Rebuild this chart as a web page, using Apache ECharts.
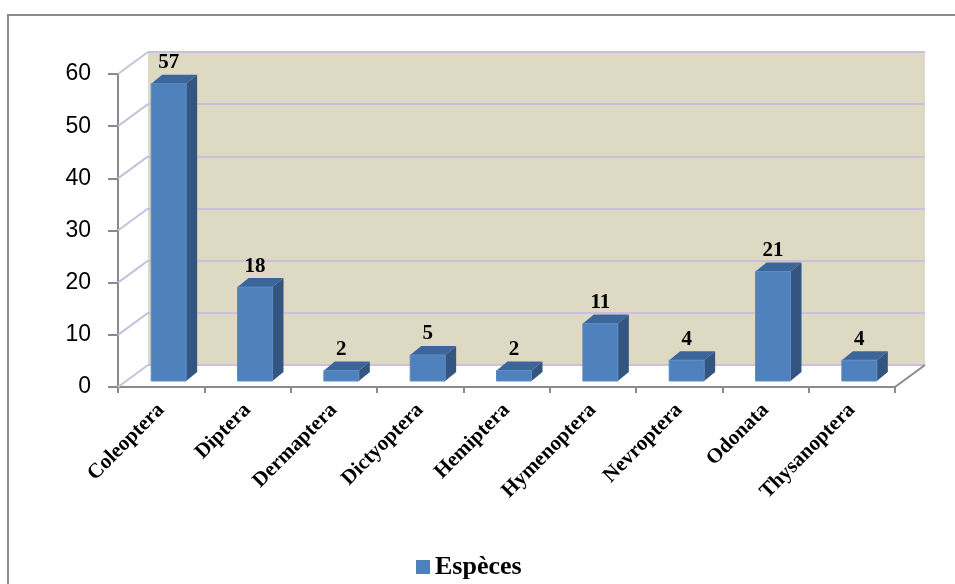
<!DOCTYPE html>
<html>
<head>
<meta charset="utf-8">
<script src="https://cdn.jsdelivr.net/npm/echarts@6/dist/echarts.min.js"></script>
<style>html,body{margin:0;padding:0;background:#fff;}#c{width:955px;height:584px;}</style>
</head>
<body>
<div id="c"></div>
<script>
var categories = ['Coleoptera','Diptera','Dermaptera','Dictyoptera','Hemiptera','Hymenoptera','Nevroptera','Odonata','Thysanoptera'];
var values = [57, 18, 2, 5, 2, 11, 4, 21, 4];
var yTicks = [0, 10, 20, 30, 40, 50, 60];
var seriesName = 'Espèces';

var DX = 30, DY = -22;          // depth offset of the back wall
var FDX = 7.5, FDY = -6;        // bar front face depth offset
var BDX = 18.5, BDY = -15;      // bar back face depth offset
var FRONT = '#4F81BD', SIDE = '#33557F', TOP = '#3C6699';
var GREY = '#8A8A8A', GRIDC = '#CBBFDC', WALL = '#DDD9C3';
var SERIF = '"Liberation Serif", "Times New Roman", serif';

var chart = echarts.init(document.getElementById('c'));
chart.setOption({
  animation: false,
  backgroundColor: '#fff',
  graphic: [{
    type: 'rect', z: -10, silent: true,
    shape: {x: 8, y: 15, width: 1200, height: 1200},
    style: {fill: 'none', stroke: GREY, lineWidth: 2}
  }],
  legend: {
    data: [{name: seriesName, icon: 'rect'}],
    left: 411, top: 549,
    itemWidth: 14, itemHeight: 14, itemGap: 6,
    textStyle: {fontFamily: SERIF, fontWeight: 'bold', fontSize: 26, color: '#000'}
  },
  grid: [
    {left: 118, top: 74, width: 777, height: 313, containLabel: false},
    {left: 118 + DX, top: 74 + DY, width: 777, height: 313, show: true, backgroundColor: WALL, borderWidth: 0, z: 0}
  ],
  xAxis: [
    {type: 'category', gridIndex: 0, data: categories,
     axisLine: {show: true, lineStyle: {color: GREY, width: 2}},
     axisTick: {show: true, length: 6, lineStyle: {color: GREY, width: 2}},
     axisLabel: {rotate: 45, margin: 20, interval: 0, fontFamily: SERIF, fontWeight: 'bold', fontSize: 21, color: '#000'}
    },
    {type: 'category', gridIndex: 1, data: categories, show: false}
  ],
  yAxis: [
    {type: 'value', gridIndex: 0, min: 0, max: 60, interval: 10,
     axisLine: {show: true, lineStyle: {color: GREY, width: 2}},
     axisTick: {show: true, length: 10, lineStyle: {color: GREY, width: 2}},
     splitLine: {show: false},
     axisLabel: {margin: 27, fontFamily: '"Liberation Sans", Arial, sans-serif', fontSize: 23, color: '#000'}
    },
    {type: 'value', gridIndex: 1, min: 0, max: 60, interval: 10,
     axisLine: {show: false}, axisTick: {show: false}, axisLabel: {show: false},
     splitLine: {show: true, lineStyle: {color: GRIDC, width: 2}}
    }
  ],
  series: [
    {
      type: 'custom', name: 'walls', xAxisIndex: 0, yAxisIndex: 0, z: 1, silent: true,
      data: yTicks.map(function (v) { return [0, v]; }),
      renderItem: function (params, api) {
        var cs = params.coordSys;
        var y = api.coord([0, api.value(1)])[1];
        var children = [{
          type: 'line',
          shape: {x1: cs.x, y1: y, x2: cs.x + DX, y2: y + DY},
          style: {stroke: GRIDC, lineWidth: 2}
        }];
        if (params.dataIndex === 0) {
          children.push({
            type: 'line',
            shape: {x1: cs.x + cs.width, y1: y, x2: cs.x + cs.width + DX, y2: y + DY},
            style: {stroke: GREY, lineWidth: 2}
          });
        }
        return {type: 'group', children: children};
      }
    },
    {
      type: 'custom', name: seriesName, xAxisIndex: 0, yAxisIndex: 0, z: 5,
      itemStyle: {color: FRONT},
      data: values.map(function (v, i) { return [i, v]; }),
      renderItem: function (params, api) {
        var i = api.value(0), v = api.value(1);
        var base = api.coord([i, 0]);
        var topP = api.coord([i, v]);
        var band = api.size([1, 0])[0];
        var w = band * 0.405;
        var L = base[0] - w / 2, R = L + w;
        var y0 = base[1], y1 = topP[1];
        var front = [[L + FDX, y1 + FDY], [R + FDX, y1 + FDY], [R + FDX, y0 + FDY], [L + FDX, y0 + FDY]];
        var top = [[L + FDX, y1 + FDY], [R + FDX, y1 + FDY], [R + BDX, y1 + BDY], [L + BDX, y1 + BDY]];
        var side = [[R + FDX, y1 + FDY], [R + BDX, y1 + BDY], [R + BDX, y0 + BDY], [R + FDX, y0 + FDY]];
        return {
          type: 'group',
          children: [
            {type: 'polygon', shape: {points: side}, style: {fill: SIDE}},
            {type: 'polygon', shape: {points: top}, style: {fill: TOP}},
            {type: 'polygon', shape: {points: front}, style: {fill: FRONT, stroke: '#5A8CC6', lineWidth: 1}},
            {type: 'text', style: {
              text: String(v), x: (L + R) / 2 + FDX, y: y1 + FDY - 21,
              align: 'center', verticalAlign: 'middle',
              font: 'bold 21px ' + SERIF, fill: '#000'
            }}
          ]
        };
      }
    }
  ]
});
</script>
</body>
</html>
